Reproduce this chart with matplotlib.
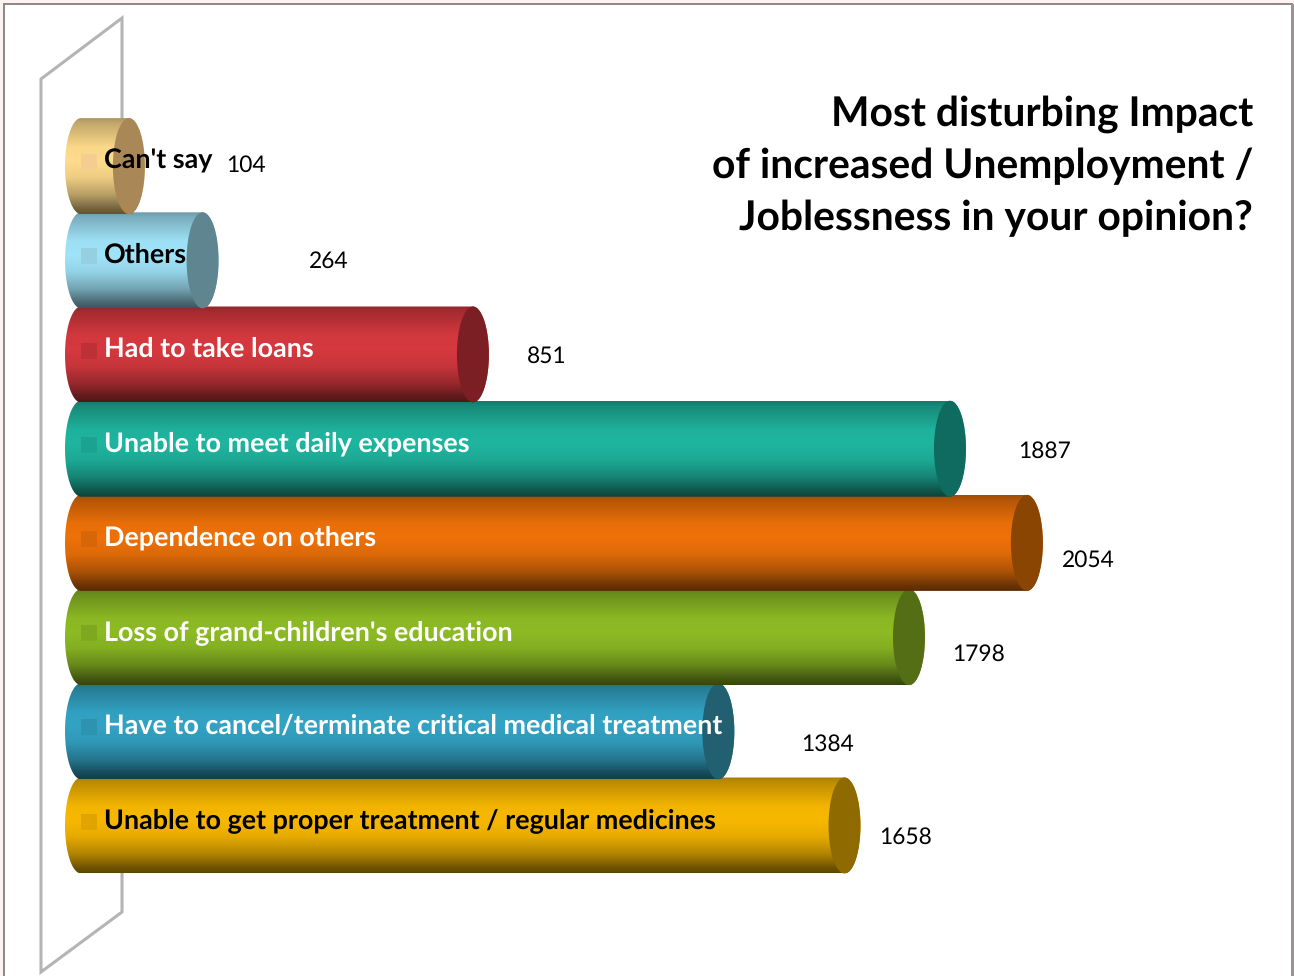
import numpy as np
import matplotlib
matplotlib.use("Agg")
import matplotlib.pyplot as plt
from matplotlib.colors import to_rgb
from matplotlib.patches import Ellipse, Polygon, Rectangle

plt.rcParams["text.hinting"] = "none"

categories = ["Unable to get proper treatment / regular medicines",
              "Have to cancel/terminate critical medical treatment",
              "Loss of grand-children's education",
              "Dependence on others",
              "Unable to meet daily expenses",
              "Had to take loans",
              "Others",
              "Can't say"]
values = [1658, 1384, 1798, 2054, 1887, 851, 264, 104]
body_colors = ["#f8b800", "#33a3c4", "#8dbb24", "#ee7109", "#1fb59f", "#d6393f", "#a0e4f9", "#ffdc8c"]
cap_colors = ["#8f6a00", "#225f70", "#536e14", "#8a4503", "#0f6b5f", "#7c1f24", "#5e8590", "#a98757"]
key_colors = ["#dfa400", "#2d93b0", "#7fa820", "#d66608", "#1ba38f", "#bd3036", "#95d0e2", "#f5cd90"]
text_colors = ["black", "white", "white", "white", "white", "white", "black", "black"]
title_lines = ["Most disturbing Impact", "of increased Unemployment /", "Joblessness in your opinion?"]

W, H = 1294, 976
PX_PER_UNIT = 0.4605
X_ZERO = 81
Y_BOTTOM = 825.5
Y_STEP = 94.2
CAP_RX = 16 / PX_PER_UNIT
HALF = 48 / Y_STEP

# value label offsets from the end of each bar, in pixels (up is positive)
label_dx = [19, 67, 27, 19, 52, 38, 90, 81]
label_dy = [-12, -13, -17, -17, -3, -2, -1, 1]

# vertical shading of a cylinder body, as (position, brightness)
shade_pos = [0.0, 0.05, 0.30, 0.45, 0.62, 0.80, 0.94, 1.0]
shade_val = [0.68, 0.76, 0.98, 1.0, 0.93, 0.72, 0.46, 0.38]

fig = plt.figure(figsize=(W / 100, H / 100), dpi=100, facecolor="#fdf3f1")

# page frame and the slanted back wall, in pixel coordinates
bg = fig.add_axes([0, 0, 1, 1])
bg.set_xlim(0, W)
bg.set_ylim(H, 0)
bg.axis("off")
bg.add_patch(Rectangle((3.5, 4), 1288, 990, facecolor="white", edgecolor="#8f8585", linewidth=1.4))
bg.add_patch(Rectangle((1291, 4), 3, 990, facecolor="#999393", edgecolor="none"))
bg.add_patch(Polygon([(41, 79), (122, 18), (122, 912), (41, 972)], closed=True,
                     facecolor="white", edgecolor="#b4b4b4", linewidth=2.2))

for line, y in zip(title_lines, [114, 166, 218]):
    bg.text(1253, y, line, ha="right", va="center", fontsize=29.3, family="Lato", weight="bold", color="black")

ax = fig.add_axes([0, 0, 1, 1])
ax.patch.set_alpha(0)
ax.axis("off")

ys = np.arange(len(values))
t = np.linspace(0, 1, 200)
shade = np.interp(t, shade_pos, shade_val)
theta = np.linspace(-np.pi / 2, np.pi / 2, 60)

# lower bars first, each cylinder overlaps the one beneath it
for i in ys:
    v = values[i]
    rgb = np.array(to_rgb(body_colors[i]))
    grad = (shade[:, None] * rgb)[:, None, :]
    right = np.column_stack([v + CAP_RX * np.cos(theta), i + HALF * np.sin(theta)])
    left = np.column_stack([-CAP_RX * np.cos(theta[::-1]), i + HALF * np.sin(theta[::-1])])
    outline = Polygon(np.vstack([right, left]), closed=True, transform=ax.transData)
    im = ax.imshow(grad, extent=(-CAP_RX, v + CAP_RX, i - HALF, i + HALF), origin="upper",
                   aspect="auto", interpolation="bilinear", zorder=2 + i)
    im.set_clip_path(outline)
    ax.add_patch(Ellipse((v, i), 2 * CAP_RX, 2 * HALF, facecolor=cap_colors[i], edgecolor="none", zorder=2 + i))

ax.set_xlim(-X_ZERO / PX_PER_UNIT, (W - X_ZERO) / PX_PER_UNIT)
ax.set_ylim((Y_BOTTOM - H) / Y_STEP, Y_BOTTOM / Y_STEP)

for i in ys:
    cy = i + 4 / Y_STEP
    ax.add_patch(Rectangle((0, cy - 8 / Y_STEP), 16 / PX_PER_UNIT, 16 / Y_STEP, facecolor=key_colors[i],
                           edgecolor="none", zorder=20))
    ax.text(22.5 / PX_PER_UNIT, i + 5 / Y_STEP, categories[i], ha="left", va="center", fontsize=19.4, family="Lato",
            weight="bold", color=text_colors[i], zorder=21)
    ax.annotate(str(values[i]), (values[i] + CAP_RX, i), xytext=(label_dx[i] * 0.72, label_dy[i] * 0.72),
                textcoords="offset points", ha="left", va="center", fontsize=16.4, family="Lato",
                color="black", zorder=21)

fig.savefig("out.png", dpi=100, facecolor=fig.get_facecolor())
